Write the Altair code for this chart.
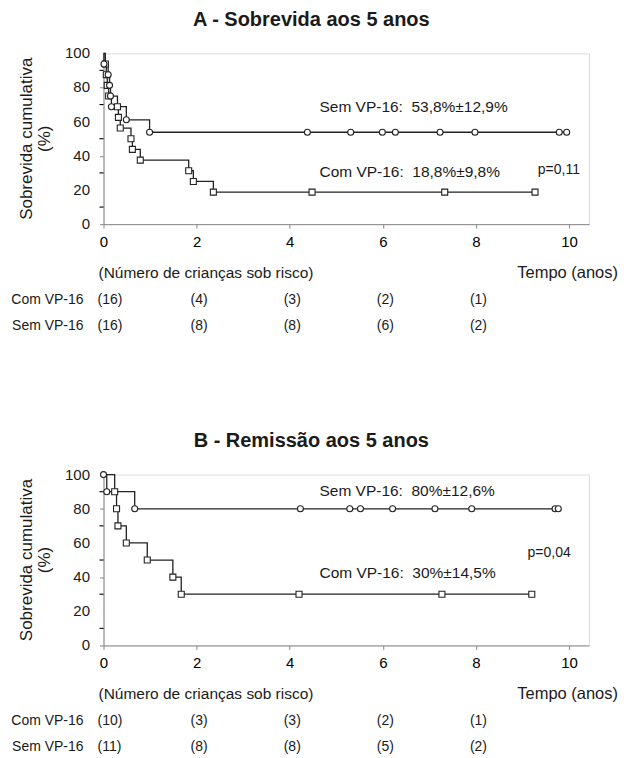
import altair as alt
import pandas as pd

FONT = "Liberation Sans"
INK = "#1a1a1a"

# ---------------- data ----------------
# Panel A - Sobrevida aos 5 anos
a_com_t = [0.04, 0.06, 0.08, 0.11, 0.30, 0.32, 0.36, 0.59, 0.62, 0.79, 1.83, 1.93, 2.36]
a_com_s = [93.75, 87.5, 81.25, 75, 68.75, 62.5, 56.25, 50, 43.75, 37.5, 31.25, 25, 18.75]
a_com_cens = [4.48, 7.33, 9.27]
a_sem_t = [0.01, 0.10, 0.13, 0.15, 0.17, 0.49, 0.99]
a_sem_s = [93.75, 87.5, 81.25, 75, 68.75, 61.1, 53.8]
a_sem_cens = [4.38, 5.31, 5.99, 6.27, 7.23, 7.98, 9.79, 9.95]

# Panel B - Remissão aos 5 anos
b_com_t = [0.24, 0.28, 0.31, 0.49, 0.94, 1.49, 1.67]
b_com_s = [90, 80, 70, 60, 50, 40, 30]
b_com_cens = [4.20, 7.27, 9.20]
b_sem_t = [0.0, 0.07, 0.67]
b_sem_s = [100, 90, 80]
b_sem_cens = [4.23, 5.29, 5.52, 6.21, 7.12, 7.91, 9.70, 9.77]

# Número de crianças sob risco
risk_t = [0, 2, 4, 6, 8]
a_risk_com = [16, 4, 3, 2, 1]
a_risk_sem = [16, 8, 8, 6, 2]
b_risk_com = [10, 3, 3, 2, 1]
b_risk_sem = [11, 8, 8, 5, 2]

# axis ticks
x_ticks = [0, 2, 4, 6, 8, 10]
y_ticks = [0, 20, 40, 60, 80, 100]
y_minor = [10, 30, 50, 70, 90]

NB = "\u00a0"
a_note_text = ["Sem VP-16:" + NB * 2 + "53,8%±12,9%", "Com VP-16:" + NB * 2 + "18,8%±9,8%"]
a_note_x = [4.64, 4.64]
a_note_y = [68.8, 30.6]
a_p = ("p=0,11", 9.33, 31.7)

b_note_text = ["Sem VP-16:" + NB * 2 + "80%±12,6%", "Com VP-16:" + NB * 2 + "30%±14,5%"]
b_note_x = [4.64, 4.64]
b_note_y = [90.2, 42.4]
b_p = ("p=0,04", 9.11, 54.1)

W, H = 486, 171
XMAX = 10.43


def txt(**kw):
    base = dict(font=FONT, color=INK, baseline="middle")
    base.update(kw)
    return base


def panel(title, com_t, com_s, com_c, sem_t, sem_s, sem_c,
          note_text, note_x, note_y, pnote, risk_com, risk_sem):
    line_rows, mark_rows = [], []
    for g, ts, ss, cs in [("Com VP-16", com_t, com_s, com_c),
                          ("Sem VP-16", sem_t, sem_s, sem_c)]:
        line_rows.append({"g": g, "t": 0.0, "s": 100.0, "o": 0})
        for i, (t, s) in enumerate(zip(ts, ss)):
            line_rows.append({"g": g, "t": t, "s": s, "o": i + 1})
            mark_rows.append({"g": g, "t": t, "s": s})
        line_rows.append({"g": g, "t": max(cs), "s": ss[-1], "o": len(ts) + 1})
        for c in cs:
            mark_rows.append({"g": g, "t": c, "s": ss[-1]})
    lines_df = pd.DataFrame(line_rows)
    marks_df = pd.DataFrame(mark_rows)

    xs = alt.Scale(domain=[0, XMAX], nice=False, zero=False)
    ys = alt.Scale(domain=[0, 100], nice=False)

    xax = alt.Axis(values=x_ticks, title=None, grid=False,
                   tickSize=4, labelFontSize=15, labelPadding=6, labelFlush=False)
    yax = alt.Axis(values=y_ticks, grid=False, tickSize=4, labels=False,
                   title=None)

    lines = alt.Chart(lines_df).mark_line(
        interpolate="step-after", color="#222", strokeWidth=1.3
    ).encode(
        x=alt.X("t:Q", scale=xs, axis=xax),
        y=alt.Y("s:Q", scale=ys, axis=yax),
        detail="g:N",
        order=alt.Order("o:Q"),
    )

    minor = alt.Chart(pd.DataFrame({"v": y_minor})).mark_rule(
        color="#000", strokeWidth=1.1
    ).encode(y="v:Q", x=alt.value(-4), x2=alt.value(0))

    ylabels = alt.Chart(pd.DataFrame({"v": y_ticks})).mark_text(
        **txt(align="right", fontSize=15)
    ).encode(y="v:Q", x=alt.value(-13.5), text="v:Q")

    marks = alt.Chart(marks_df).mark_point(
        filled=False, fill="white", fillOpacity=1, color="#222",
        strokeWidth=1.1, size=36, opacity=1
    ).encode(
        x="t:Q", y="s:Q",
        shape=alt.Shape("g:N", scale=alt.Scale(domain=["Sem VP-16", "Com VP-16"],
                                              range=["circle", "square"]),
                        legend=None),
    )

    notes_df = pd.DataFrame({"txt": note_text, "x": note_x, "y": note_y})
    notes = alt.Chart(notes_df).mark_text(**txt(align="left", fontSize=15.5)).encode(
        x="x:Q", y="y:Q", text="txt:N")

    p_df = pd.DataFrame({"txt": [pnote[0]], "x": [pnote[1]], "y": [pnote[2]]})
    pn = alt.Chart(p_df).mark_text(**txt(align="left", fontSize=14)).encode(
        x="x:Q", y="y:Q", text="txt:N")

    ttl = alt.Chart(pd.DataFrame({"txt": [title]})).mark_text(
        **txt(align="center", fontSize=20, fontWeight="bold")
    ).encode(x=alt.value(208), y=alt.value(-33.3), text="txt:N")

    ytl = alt.Chart(pd.DataFrame({"txt": ["Sobrevida cumulativa", "(%)"],
                                  "xx": [-77, -59]})).mark_text(
        **txt(align="center", fontSize=17, angle=270)
    ).encode(x=alt.X("xx:Q", scale=None), y=alt.value(H / 2), text="txt:N")

    hdr = alt.Chart(pd.DataFrame({"txt": ["(Número de crianças sob risco)"]})).mark_text(
        **txt(align="left", fontSize=15.5)
    ).encode(x=alt.value(-5), y=alt.value(H + 49), text="txt:N")

    tempo = alt.Chart(pd.DataFrame({"txt": ["Tempo (anos)"]})).mark_text(
        **txt(align="right", fontSize=16.5)
    ).encode(x=alt.value(515), y=alt.value(H + 49), text="txt:N")

    rowlab = alt.Chart(pd.DataFrame({"txt": ["Com VP-16", "Sem VP-16"],
                                     "yy": [H + 76, H + 102]})).mark_text(
        **txt(align="right", fontSize=14)
    ).encode(x=alt.value(-20), y=alt.Y("yy:Q", scale=None), text="txt:N")

    def risk_layer(vals, yoff):
        df = pd.DataFrame({"t": risk_t, "lab": ["(%d)" % v for v in vals]})
        return alt.Chart(df).mark_text(**txt(align="left", fontSize=14, dx=-6)).encode(
            x="t:Q", y=alt.value(yoff), text="lab:N")

    return alt.layer(
        lines, minor, ylabels, marks, notes, pn, ttl, ytl, hdr, tempo, rowlab,
        risk_layer(risk_com, H + 76), risk_layer(risk_sem, H + 102)
    ).properties(width=W, height=H)


chartA = panel("A - Sobrevida aos 5 anos", a_com_t, a_com_s, a_com_cens,
               a_sem_t, a_sem_s, a_sem_cens, a_note_text, a_note_x, a_note_y,
               a_p, a_risk_com, a_risk_sem)
chartB = panel("B - Remissão aos 5 anos", b_com_t, b_com_s, b_com_cens,
               b_sem_t, b_sem_s, b_sem_cens, b_note_text, b_note_x, b_note_y,
               b_p, b_risk_com, b_risk_sem)

chart = alt.vconcat(chartA, chartB, spacing=96.7).properties(
    padding={"left": 2.6, "top": 1, "right": 0, "bottom": 0}
).configure_view(
    stroke="#666", strokeWidth=1.2
).configure_axis(
    domainColor="#000", tickColor="#000", labelColor=INK,
    labelFont=FONT, titleFont=FONT, domainWidth=1.2, tickWidth=1.1
).configure(background="white")

chart.save("out.html", embed_options={"renderer": "svg", "actions": False})
